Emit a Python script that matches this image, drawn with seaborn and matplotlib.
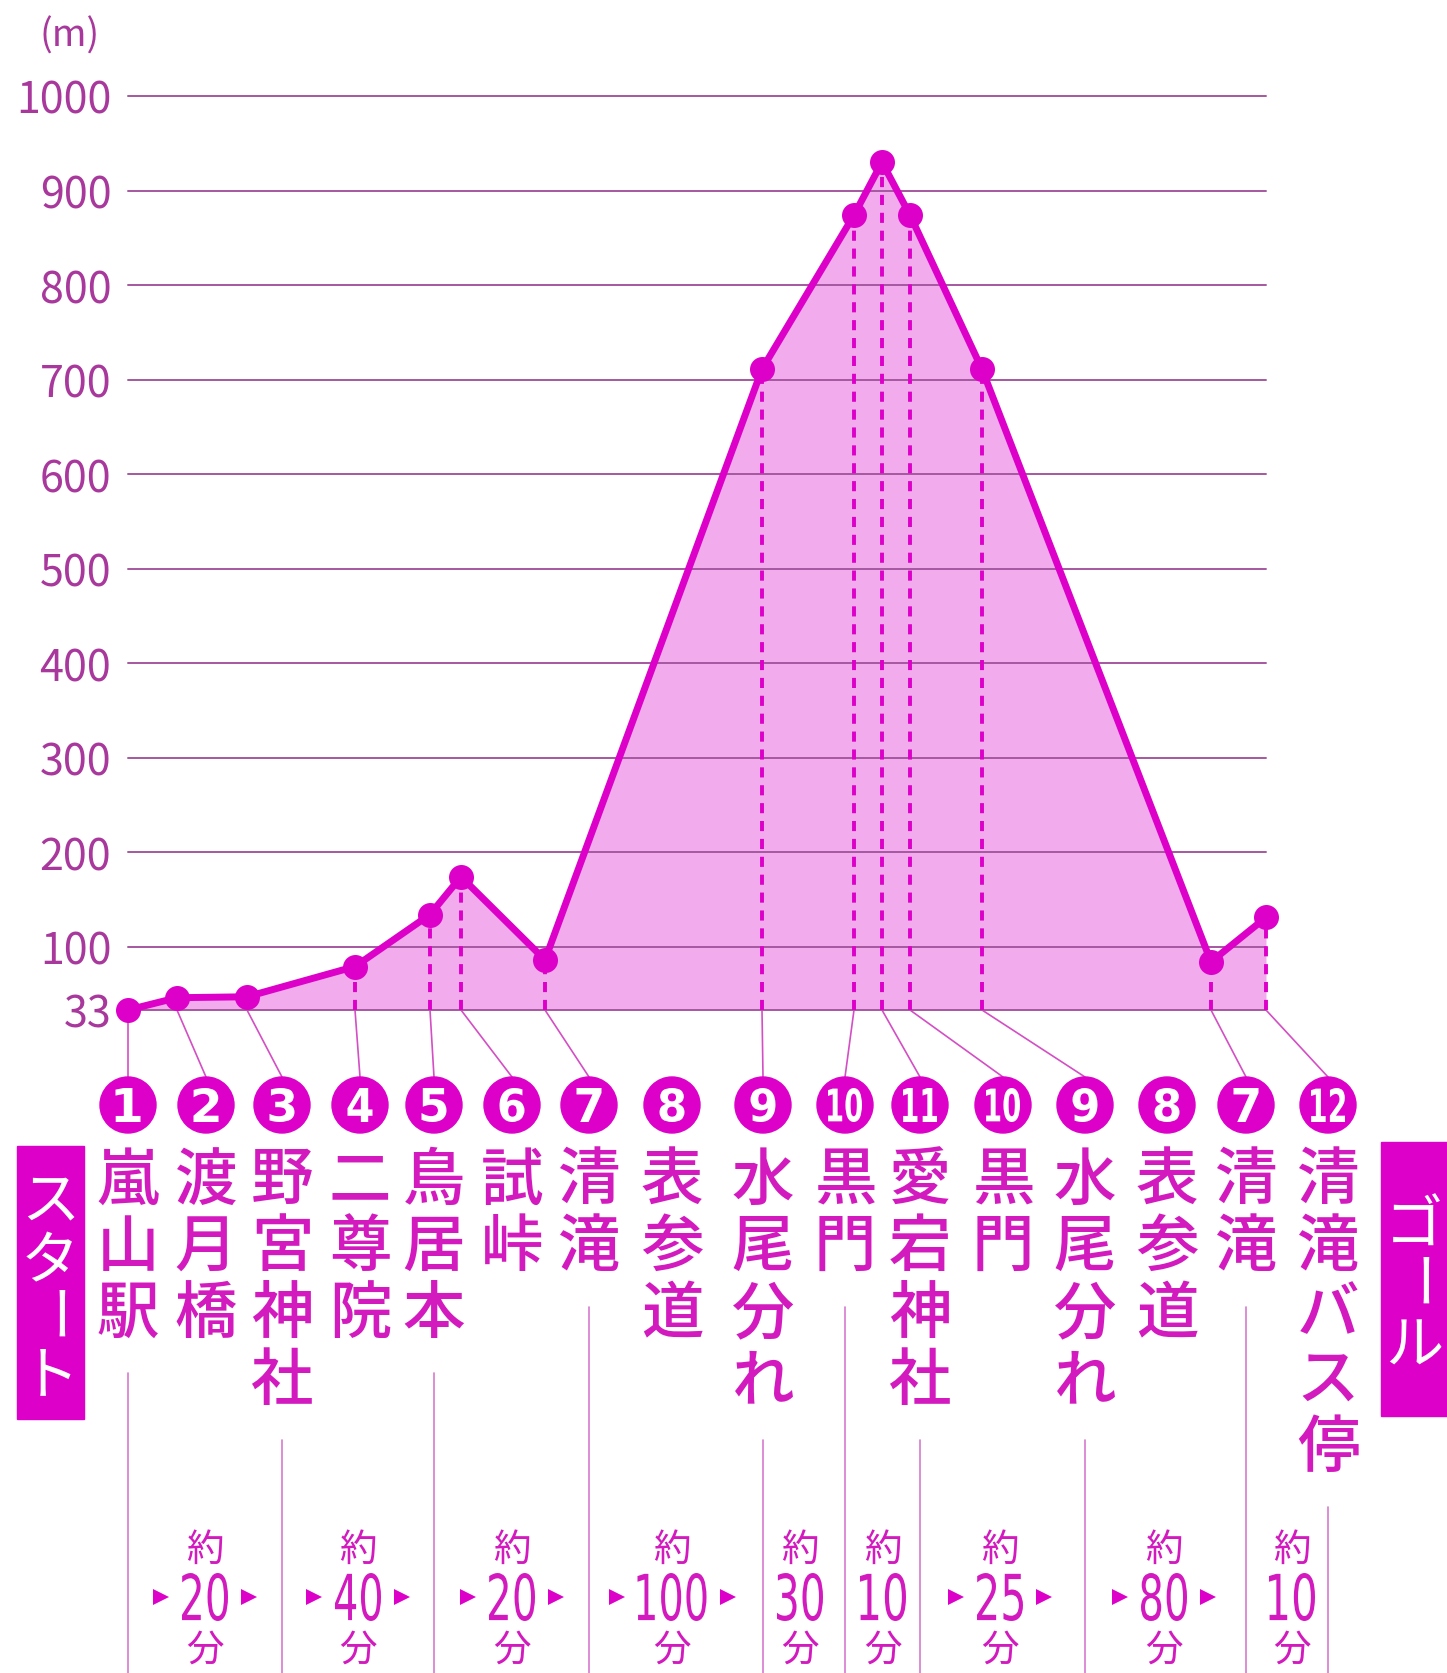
"""
愛宕山ハイキングコースの標高断面図
"""

import numpy as np
import matplotlib
matplotlib.use('Agg')
import matplotlib.pyplot as plt
import seaborn as sns
from matplotlib.patches import Circle, Rectangle, PathPatch
from matplotlib.textpath import TextPath
from matplotlib.font_manager import FontProperties
from matplotlib.transforms import Affine2D

# ---- データ ----
# 断面上の地点（距離は図から読み取った相対値）と標高(m)
prof_x = [0, 49, 119, 227, 302, 333, 417, 634, 726, 754, 782, 854, 1083, 1138]
prof_elev = [33, 46, 47, 79, 134, 174, 86, 711, 874, 930, 874, 711, 84, 131]
prof_label_idx = [0, 1, 2, 3, 4, 5, 6, 8, 9, 10, 11, 12, 14, 15]

# 下の番号と地点名
nums = ['1', '2', '3', '4', '5', '6', '7', '8', '9', '10', '11', '10', '9', '8', '7', '12']
names = ['嵐山駅', '渡月橋', '野宮神社', '二尊院', '鳥居本', '試峠', '清滝', '表参道',
         '水尾分れ', '黒門', '愛宕神社', '黒門', '水尾分れ', '表参道', '清滝', '清滝バス停']

# 所要時間
time_values = ['20', '40', '20', '100', '30', '10', '25', '80', '10']
time_arrows = [True, True, True, True, False, False, True, True, False]

y_ticks = [33, 100, 200, 300, 400, 500, 600, 700, 800, 900, 1000]

# ---- レイアウト（ピクセル） ----
W, H = 1447, 1674
circle_x = [128, 206, 282, 360, 434, 512, 589, 672, 763, 845, 920, 1003, 1085, 1167, 1246, 1328]
time_x = [205, 358, 512, 672, 800, 883, 1000, 1164, 1292]
sep_idx = [0, 2, 4, 6, 8, 9, 10, 12, 14, 15]
circle_y, circle_r = 1106, 28
name_y0, name_step = 1182, 66.8

MAG = '#DC00C8'
TXT = '#D21ABF'
FILL = '#F2ABEC'
GRID = '#A5589F'
TICK = '#A8389C'


def Y(y):
    return H - y


def narrow_text(axo, cx, cy, s, h, w_char, color, family='DejaVu Sans', weight='normal'):
    """縦長の数字をパスで描く"""
    tp = TextPath((0, 0), s, size=100, prop=FontProperties(family=family, weight=weight))
    bb = tp.get_extents()
    sx = w_char * len(s) / bb.width
    sy = h / bb.height
    tr = (Affine2D().translate(-bb.x0 - bb.width / 2, -bb.y0 - bb.height / 2)
          .scale(sx, sy).translate(cx, cy))
    axo.add_patch(PathPatch(tr.transform_path(tp), fc=color, lw=0, zorder=5))


sns.set_theme(style='white')
plt.rcParams['font.family'] = ['Noto Sans CJK JP', 'DejaVu Sans']

fig = plt.figure(figsize=(W / 100, H / 100), dpi=100)

# 下部用のピクセル座標の軸
ov = fig.add_axes([0, 0, 1, 1])
ov.set_xlim(0, W)
ov.set_ylim(0, H)
ov.axis('off')
ov.patch.set_alpha(0)

# 断面図の軸
ax = fig.add_axes([128 / W, 1 - 1011 / H, 1138 / W, (1011 - 97) / H])
ax.patch.set_alpha(0)
ax.set_xlim(prof_x[0], prof_x[-1])
ax.set_ylim(33, 1000)

ax.fill_between(prof_x, prof_elev, 33, color=FILL, lw=0, zorder=1)
for yt in y_ticks[1:]:
    ax.axhline(yt, color=GRID, lw=1.4, zorder=2)
ax.plot([prof_x[0], prof_x[-1]], [33, 33], color=GRID, lw=1.4, zorder=2, clip_on=False)

# 破線（地点から基線へ）
for x, e in zip(prof_x[3:], prof_elev[3:]):
    ax.plot([x, x], [33, e], color=MAG, lw=2.8, ls=(0, (2.6, 2.0)), zorder=3)

sns.lineplot(x=prof_x, y=prof_elev, sort=False, ax=ax, color=MAG, lw=5,
             marker='o', markersize=18, markeredgewidth=0, zorder=4)
for ln in ax.lines:
    ln.set_clip_on(False)

ax.set_yticks(y_ticks)
ax.set_yticklabels([str(v) for v in y_ticks], color=TICK, fontsize=31)
ax.tick_params(axis='y', length=0, pad=12)
ax.set_xticks([])
for sp in ax.spines.values():
    sp.set_visible(False)
ov.text(70, Y(36), '(m)', color=TICK, fontsize=27, ha='center', va='center')

# 引き出し線
to_ov = ov.transData.inverted()
fig.canvas.draw()
for x, li in zip(prof_x, prof_label_idx):
    bx, by = to_ov.transform(ax.transData.transform((x, 33)))
    ov.plot([bx, circle_x[li]], [by, Y(circle_y - circle_r)], color='#D44EC4', lw=1.2, zorder=2)

# 番号の丸と地点名
for cx, n, name in zip(circle_x, nums, names):
    ov.add_patch(Circle((cx, Y(circle_y)), circle_r, color=MAG, zorder=4))
    if len(n) == 1:
        narrow_text(ov, cx, Y(circle_y), n, 34, 25, 'white', weight='bold')
    else:
        narrow_text(ov, cx, Y(circle_y), n, 34, 17, 'white', weight='bold')
    for k, ch in enumerate(name):
        ov.text(cx, Y(name_y0 + name_step * k), ch, color=TXT, fontsize=45,
                fontweight='medium', ha='center', va='center')

# 区切り線
for i in sep_idx:
    y_start = name_y0 + name_step * len(names[i]) - 8
    ov.plot([circle_x[i], circle_x[i]], [Y(y_start), 0], color='#D87ACF', lw=1.2)

# 所要時間
for tx, tv, arr in zip(time_x, time_values, time_arrows):
    ov.text(tx, Y(1550), '約', color=TXT, fontsize=27, ha='center', va='center')
    narrow_text(ov, tx, Y(1598), tv, 48, 23, TXT)
    ov.text(tx, Y(1650), '分', color=TXT, fontsize=27, ha='center', va='center')
    if arr:
        off = 23 * len(tv) / 2 + 21
        ov.plot([tx - off, tx + off], [Y(1598), Y(1598)], ls='none', marker='>',
                ms=12, color=MAG, markeredgewidth=0)

# スタート / ゴール
ov.add_patch(Rectangle((17, Y(1420)), 67, 1420 - 1147, color=MAG, zorder=3))
for ch, yy in zip('スタート', [1202, 1263, 1318, 1377]):
    ov.text(50, Y(yy), ch, color='white', fontsize=42, ha='center', va='center',
            rotation=-90 if ch == 'ー' else 0, zorder=5)
ov.add_patch(Rectangle((1381, Y(1417)), 70, 1417 - 1143, color=MAG, zorder=3))
for ch, yy in zip('ゴール', [1227, 1285, 1347]):
    ov.text(1414, Y(yy), ch, color='white', fontsize=42, ha='center', va='center',
            rotation=-90 if ch == 'ー' else 0, zorder=5)

fig.savefig('out.png', dpi=100)
